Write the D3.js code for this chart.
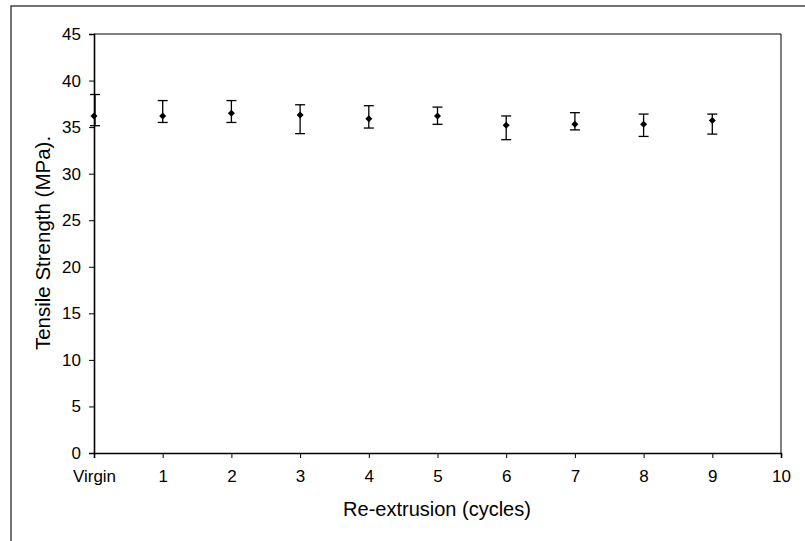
<!DOCTYPE html>
<html>
<head>
<meta charset="utf-8">
<script src="https://cdn.jsdelivr.net/npm/d3@7"></script>
<style>
  html, body { margin: 0; padding: 0; background: #fff; }
  svg { display: block; }
  text { font-family: "Liberation Sans", Arial, sans-serif; fill: #000; }
</style>
</head>
<body>
<svg id="chart" width="805" height="541"></svg>
<script>
// Data
const cycles = [0, 1, 2, 3, 4, 5, 6, 7, 8, 9];
const strength = [36.2, 36.2, 36.5, 36.3, 35.9, 36.2, 35.2, 35.3, 35.3, 35.7];
const errPlus = [2.3, 1.65, 1.35, 1.1, 1.4, 0.95, 1.0, 1.25, 1.1, 0.7];
const errMinus = [1.05, 0.7, 1.0, 2.0, 1.0, 0.9, 1.55, 0.6, 1.3, 1.45];
const xTicks = [0, 1, 2, 3, 4, 5, 6, 7, 8, 9, 10];
const xTickLabels = ["Virgin", "1", "2", "3", "4", "5", "6", "7", "8", "9", "10"];
const yTicks = [0, 5, 10, 15, 20, 25, 30, 35, 40, 45];

const svg = d3.select("#chart");
const pL = 94, pR = 781, pT = 34, pB = 453;

// outer frame
svg.append("rect")
  .attr("x", 11).attr("y", 6)
  .attr("width", 805).attr("height", 600)
  .attr("fill", "none").attr("stroke", "#444").attr("stroke-width", 1.5);

const x = d3.scaleLinear().domain([0, 10]).range([pL, pR]);
const y = d3.scaleLinear().domain([0, 45]).range([pB, pT]);

// plot area border (top & right)
svg.append("path")
  .attr("d", `M${pL},${pT}H${pR}V${pB}`)
  .attr("fill", "none").attr("stroke", "#000").attr("stroke-width", 1);

// y axis
const yAxis = svg.append("g")
  .attr("transform", `translate(${pL},0)`)
  .call(d3.axisLeft(y).tickValues(yTicks).tickSize(5).tickPadding(8));
yAxis.select(".domain").attr("stroke-width", 1.6);
yAxis.selectAll("text").style("font-size", "17px").style("font-family", "Liberation Sans, Arial, sans-serif");

// x axis
const xAxis = svg.append("g")
  .attr("transform", `translate(0,${pB})`)
  .call(d3.axisBottom(x).tickValues(xTicks).tickSize(5).tickPadding(12)
    .tickFormat((d, i) => xTickLabels[i]));
xAxis.select(".domain").attr("stroke-width", 1.6);
xAxis.selectAll("text").style("font-size", "17px").style("font-family", "Liberation Sans, Arial, sans-serif");

// axis titles
svg.append("text")
  .attr("x", 437).attr("y", 516)
  .attr("text-anchor", "middle").style("font-size", "20px")
  .text("Re-extrusion (cycles)");
svg.append("text")
  .attr("transform", `translate(50,243) rotate(-90)`)
  .attr("text-anchor", "middle").style("font-size", "20.5px")
  .text("Tensile Strength (MPa).");

// error bars
const capW = 5;
const eb = svg.append("g");
cycles.forEach((c, i) => {
  const cx = x(c) + (i === 0 ? 1 : 0);
  const yt = y(strength[i] + errPlus[i]);
  const yb = y(strength[i] - errMinus[i]);
  eb.append("line").attr("x1", cx).attr("x2", cx).attr("y1", yt).attr("y2", yb)
    .attr("stroke", "#000").attr("stroke-width", 1.3);
  eb.append("line").attr("x1", cx - capW).attr("x2", cx + capW).attr("y1", yt).attr("y2", yt)
    .attr("stroke", "#000").attr("stroke-width", 1.3);
  eb.append("line").attr("x1", cx - capW).attr("x2", cx + capW).attr("y1", yb).attr("y2", yb)
    .attr("stroke", "#000").attr("stroke-width", 1.3);
});

// markers (diamonds)
svg.append("g").selectAll("path")
  .data(cycles)
  .join("path")
  .attr("transform", (d, i) => `translate(${x(d)},${y(strength[i])})`)
  .attr("d", "M0,-3.5L3.5,0L0,3.5L-3.5,0Z")
  .attr("fill", "#000");
</script>
</body>
</html>
